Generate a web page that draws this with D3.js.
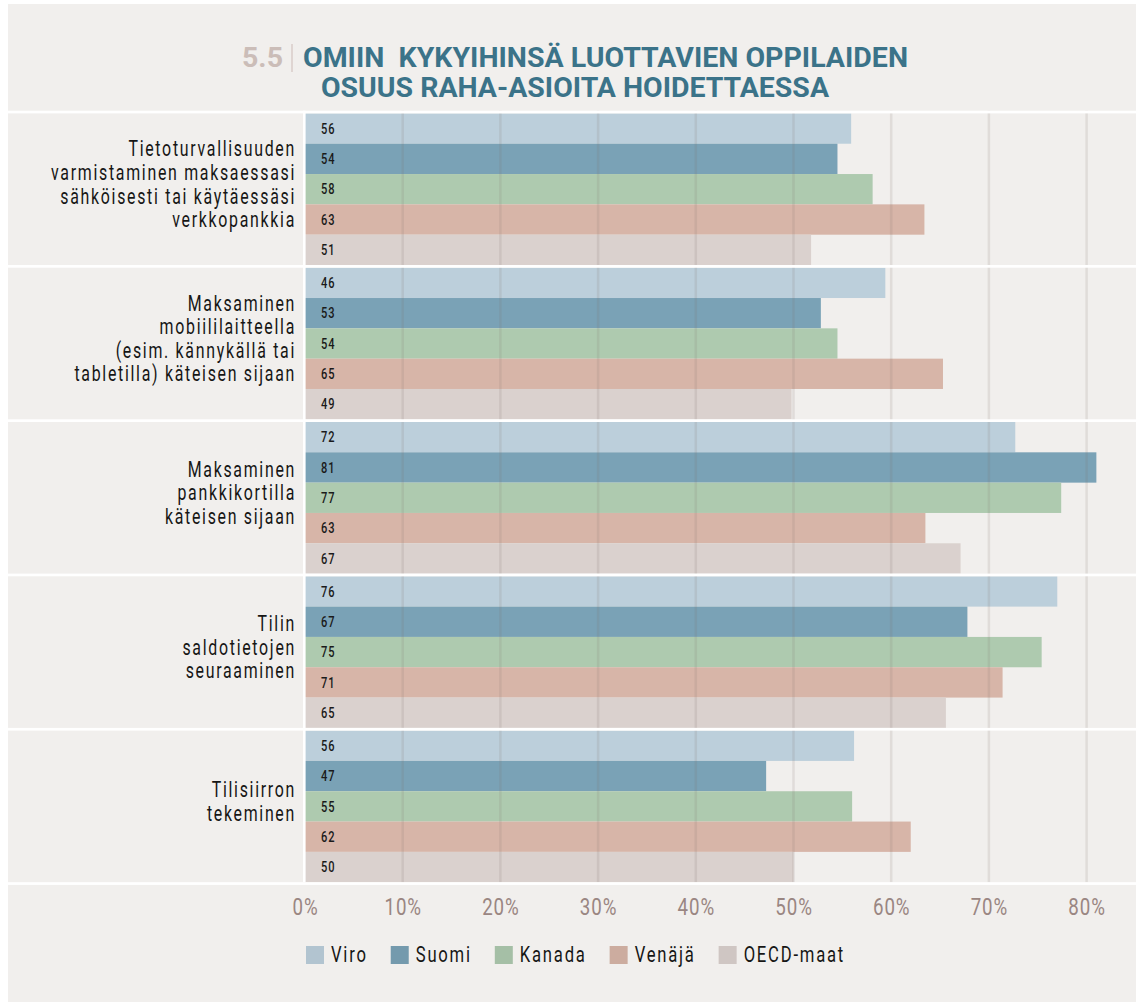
<!DOCTYPE html>
<html>
  <head>
    <meta charset="utf-8">
    <title>5.5 Omiin kykyihinsä luottavien oppilaiden osuus</title>
    <script src="https://d3js.org/d3.v7.min.js" charset="utf-8"></script>
    <style>
      html, body { margin: 0; padding: 0; background: #fff; }
      svg text { font-family: Roboto, "Open Sans", sans-serif; }
    </style>
  </head>
  <body>
  <div id="chart"></div>

  <script>
    /* ------------------
      data
    ------------------ */

    var categories = [
      ["Tietoturvallisuuden", "varmistaminen maksaessasi", "sähköisesti tai käytäessäsi", "verkkopankkia"],
      ["Maksaminen", "mobiililaitteella", "(esim. kännykällä tai", "tabletilla) käteisen sijaan"],
      ["Maksaminen", "pankkikortilla", "käteisen sijaan"],
      ["Tilin", "saldotietojen", "seuraaminen"],
      ["Tilisiirron", "tekeminen"]
    ];
    var series = ["Viro", "Suomi", "Kanada", "Venäjä", "OECD-maat"];

    // bar lengths (%) as drawn
    var viro   = [55.9, 59.4, 72.7, 77.0, 56.2];
    var suomi  = [54.5, 52.8, 81.0, 67.8, 47.2];
    var kanada = [58.1, 54.5, 77.4, 75.4, 56.0];
    var venaja = [63.4, 65.3, 63.5, 71.4, 62.0];
    var oecd   = [51.8, 49.8, 67.1, 65.6, 50.0];

    // numbers printed inside the bars
    var viroLabels   = [56, 46, 72, 76, 56];
    var suomiLabels  = [54, 53, 81, 67, 47];
    var kanadaLabels = [58, 54, 77, 75, 55];
    var venajaLabels = [63, 65, 63, 71, 62];
    var oecdLabels   = [51, 49, 67, 65, 50];

    var ticks = [0, 10, 20, 30, 40, 50, 60, 70, 80];

    var values = [viro, suomi, kanada, venaja, oecd];
    var labels = [viroLabels, suomiLabels, kanadaLabels, venajaLabels, oecdLabels];
    var colors = ["#bccfdb", "#7aa2b6", "#aecaaf", "#d7b5a8", "#dad1ce"];

    /* ------------------
      setup
    ------------------ */

    var W = 1136, H = 1002;
    var svg = d3.select('#chart').append('svg').attr('width', W).attr('height', H);

    svg.append('rect').attr('width', W).attr('height', H).attr('fill', '#fff');
    svg.append('rect').attr('x', 8).attr('y', 4).attr('width', W - 8).attr('height', H - 4).attr('fill', '#f1efed');

    var catKeys = categories.map(function(c, i) { return 'c' + i; });

    var x = d3.scaleLinear().domain([0, 80]).range([305, 1086.6]);
    var y = d3.scaleBand().domain(catKeys).range([110.7, 882.2]);
    var ys = d3.scaleBand().domain(series).range([2.7, y.bandwidth()]);

    // condensed-looking text: squeeze horizontally
    function ctext(sel, px, py, str, o) {
      return sel.append('text')
        .attr('transform', 'translate(' + px + ',' + py + ') scale(' + o.sx + ',1)')
        .attr('text-anchor', o.anchor || 'start')
        .attr('dominant-baseline', 'central')
        .style('font-size', o.size + 'px')
        .style('font-weight', o.weight || 400)
        .style('letter-spacing', (o.ls || 0) + 'px')
        .attr('fill', o.fill || '#161615')
        .text(str);
    }

    /* ------------------
      title
    ------------------ */

    var title = svg.append('g');
    title.append('text').attr('x', 283).attr('y', 67).attr('text-anchor', 'end')
      .attr('textLength', 41).attr('lengthAdjust', 'spacingAndGlyphs')
      .style('font-size', '28px').style('font-weight', 700).attr('fill', '#cbbdb8').text('5.5');
    title.append('line').attr('x1', 292).attr('x2', 292).attr('y1', 44).attr('y2', 72)
      .attr('stroke', '#d8ccc8').attr('stroke-width', 1.5);
    title.append('text').attr('x', 303).attr('y', 67)
      .attr('textLength', 605).attr('lengthAdjust', 'spacingAndGlyphs')
      .style('font-size', '28px').style('font-weight', 700).style('white-space', 'pre')
      .attr('fill', '#3b7389').text('OMIIN  KYKYIHINSÄ LUOTTAVIEN OPPILAIDEN');
    title.append('text').attr('x', 321).attr('y', 97)
      .attr('textLength', 508).attr('lengthAdjust', 'spacingAndGlyphs')
      .style('font-size', '28px').style('font-weight', 700)
      .attr('fill', '#3b7389').text('OSUUS RAHA-ASIOITA HOIDETTAESSA');

    /* ------------------
      bars
    ------------------ */

    var rows = [];
    catKeys.forEach(function(k, i) {
      series.forEach(function(s, j) {
        rows.push({ cat: k, s: s, j: j, v: values[j][i], label: labels[j][i] });
      });
    });

    svg.append('g').selectAll('rect').data(rows).join('rect')
      .attr('x', x(0))
      .attr('y', function(d) { return y(d.cat) + ys(d.s); })
      .attr('width', function(d) { return x(d.v) - x(0); })
      .attr('height', ys.bandwidth())
      .attr('fill', function(d) { return colors[d.j]; });

    // grid lines over the bars
    svg.append('g').selectAll('line').data(ticks.filter(function(t) { return t > 0; })).join('line')
      .attr('x1', function(d) { return x(d); }).attr('x2', function(d) { return x(d); })
      .attr('y1', y.range()[0]).attr('y2', y.range()[1])
      .attr('stroke', '#7d6f6a').attr('stroke-opacity', 0.15).attr('stroke-width', 2.5);

    // white separators
    var seps = catKeys.map(function(k) { return y(k); }).concat([y.range()[1]]);
    svg.append('g').selectAll('rect').data(seps).join('rect')
      .attr('x', 8).attr('y', function(d) { return d; })
      .attr('width', W - 8).attr('height', 2.7).attr('fill', '#fff');
    svg.append('rect').attr('x', 303).attr('y', y.range()[0]).attr('width', 2.6)
      .attr('height', y.range()[1] - y.range()[0]).attr('fill', '#fff');

    // numbers in the bars
    var vl = svg.append('g');
    rows.forEach(function(d) {
      ctext(vl, 321, y(d.cat) + ys(d.s) + ys.bandwidth() / 2, d.label,
        { size: 15, weight: 500, sx: 0.74, ls: 1.2, fill: '#1a1a1a' });
    });

    /* ------------------
      category labels
    ------------------ */

    var cl = svg.append('g');
    categories.forEach(function(lines, i) {
      var cy = y(catKeys[i]) + y.bandwidth() / 2 - 3.5;
      var lh = 23.6;
      lines.forEach(function(line, n) {
        ctext(cl, 296, cy + (n - (lines.length - 1) / 2) * lh, line,
          { size: 21.5, sx: 0.74, ls: 2.3, anchor: 'end' });
      });
    });

    /* ------------------
      axis
    ------------------ */

    svg.append('g')
      .attr('transform', 'translate(0,' + y.range()[1] + ')')
      .call(d3.axisBottom(x).tickValues(ticks).tickFormat(function(d) { return d + '%'; }).tickSize(0))
      .call(function(g) { g.select('.domain').remove(); })
      .call(function(g) {
        g.selectAll('text')
          .attr('y', 24.5).attr('dy', null)
          .attr('dominant-baseline', 'central')
          .attr('transform', 'scale(0.78,1)')
          .attr('fill', '#9a8682')
          .style('font-family', 'Roboto, sans-serif')
          .style('font-size', '24px')
          .style('letter-spacing', '1.2px');
      });

    /* ------------------
      legend
    ------------------ */

    var lg = svg.append('g');
    var lx = 306, ly = 955;
    series.forEach(function(s, j) {
      lg.append('rect').attr('x', lx).attr('y', ly - 9).attr('width', 18).attr('height', 18)
        .attr('fill', d3.color(colors[j]).darker(0.15));
      var t = ctext(lg, lx + 25, ly, s, { size: 22.5, sx: 0.74, ls: 2.4 });
      lx += 25 + t.node().getBBox().width * 0.74 + 23;
    });
  </script>
</body>
</html>
